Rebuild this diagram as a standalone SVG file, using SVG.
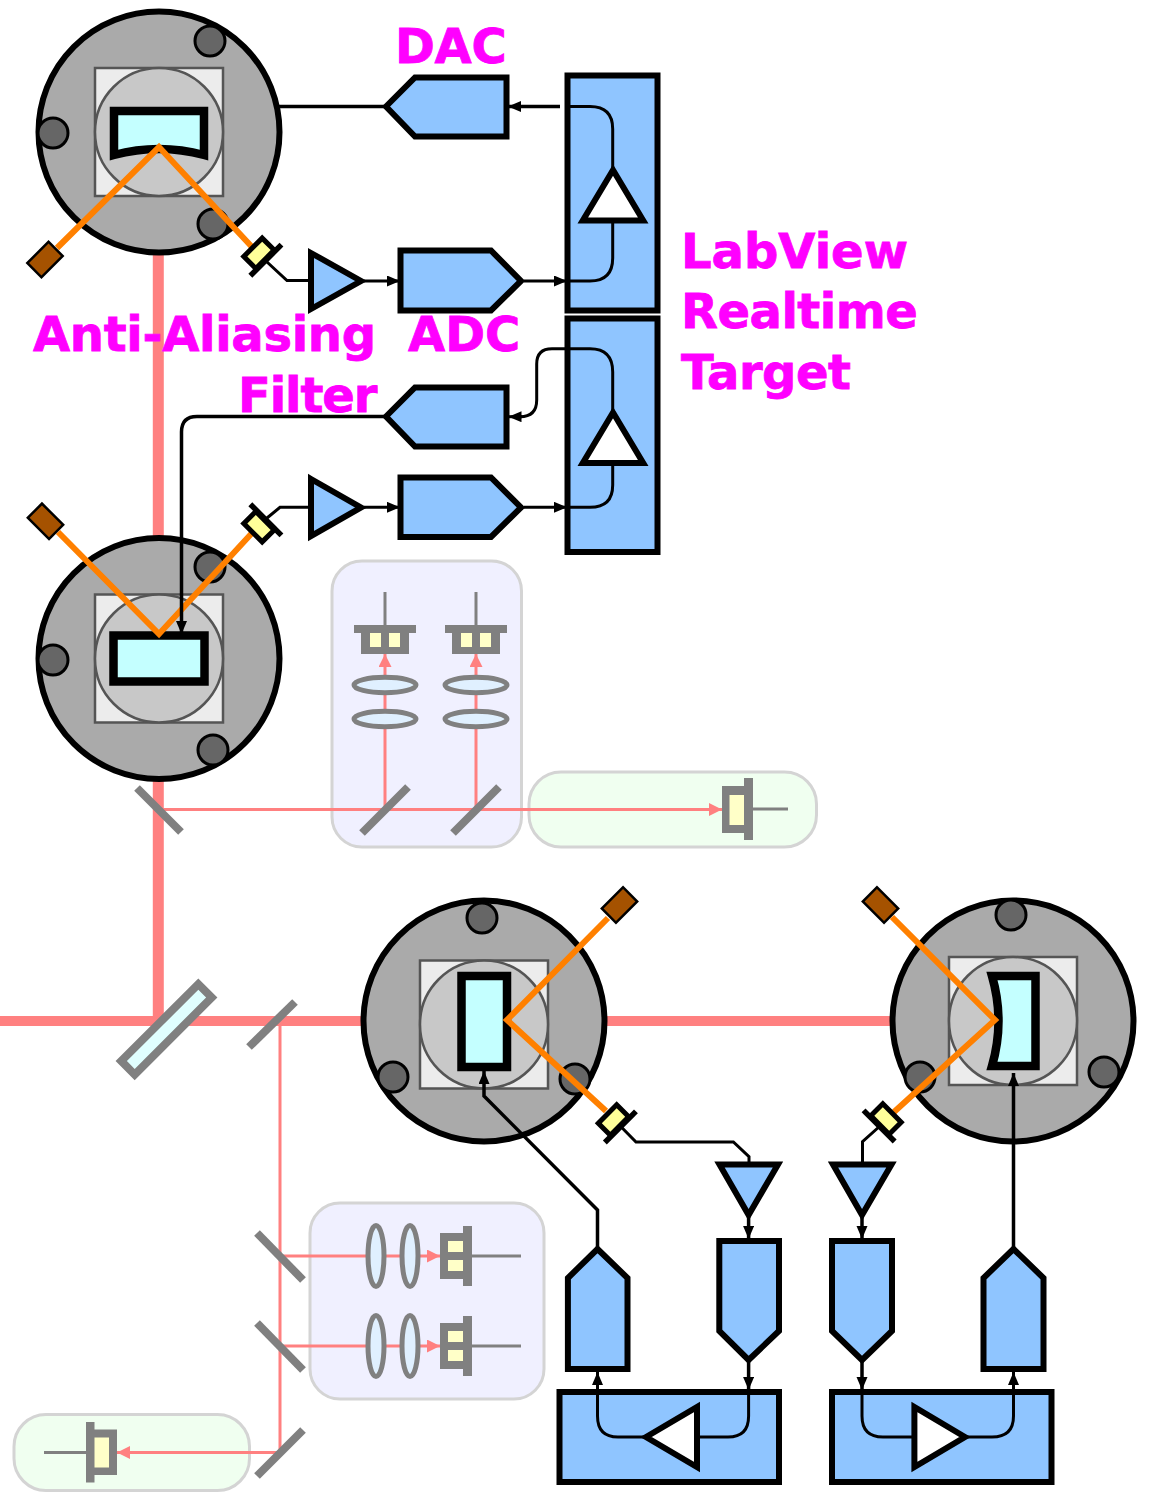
<svg xmlns="http://www.w3.org/2000/svg" width="1158" height="1494" viewBox="0 0 1158 1494">
<style>
.lbl{font-family:"DejaVu Sans",sans-serif;font-weight:700;font-size:48px;fill:#f0f;stroke:#f0f;stroke-width:.8}
.blue{fill:#8fc5ff;stroke:#000;stroke-width:6}
.tri{fill:#fff;stroke:#000;stroke-width:6}
.w{fill:none;stroke:#000;stroke-width:3}
.wa{fill:none;stroke:#000;stroke-width:3;marker-end:url(#a)}
.ok{fill:none;stroke:#000;stroke-width:3.5}
.okA{fill:none;stroke:#000;stroke-width:3.5;marker-end:url(#a)}
.b{fill:none;stroke:#ff8080;stroke-width:3}
.bA{fill:none;stroke:#ff8080;stroke-width:3;marker-end:url(#p)}
.or{fill:none;stroke:#ff8000;stroke-width:6}
.m{stroke:#808080;stroke-width:8;fill:none}
.g{fill:#808080}
.y{fill:#ffffc8}
.gl{stroke:#808080;stroke-width:3;fill:none}
.lens{fill:#e0f0ff;stroke:#808080;stroke-width:5}
.pan{stroke:#d4d4d4;stroke-width:3}
.scr{fill:#666;stroke:#000;stroke-width:3}
.mir{fill:#c4ffff;stroke:#000;stroke-width:8.500;stroke-linejoin:miter}
</style>
<defs>
<marker id="a" markerUnits="userSpaceOnUse" markerWidth="14" markerHeight="12" refX="13" refY="5.500" orient="auto"><path d="M0,0L13,5.500L0,11Z" fill="#000"/></marker>
<marker id="p" markerUnits="userSpaceOnUse" markerWidth="14" markerHeight="14" refX="13" refY="6.500" orient="auto"><path d="M0,0L13,6.500L0,13Z" fill="#ff8080"/></marker>
<circle id="base" r="120.500" fill="#aaa" stroke="#000" stroke-width="6"/>
<g id="plate">
<rect x="-64" y="-64" width="128" height="128" fill="#ececec" stroke="#555" stroke-width="2.500"/>
<circle r="64" fill="#c8c8c8" stroke="#555" stroke-width="2.500"/>
</g>
<rect id="src" x="-15" y="-10" width="30" height="20" fill="#a55200" stroke="#000" stroke-width="2.500"/>
<g id="det">
<rect x="-13" y="-8.500" width="26" height="17" fill="#ffff99" stroke="#000" stroke-width="5"/>
<rect x="-22" y="7" width="44" height="5.500" fill="#000"/>
</g>
<g id="qv">
<path class="gl" d="M0,-33V0"/>
<path class="g" d="M-31,0H31V8H24V29H-24V8H-31Z"/>
<rect class="y" x="-15" y="8" width="11" height="14"/>
<rect class="y" x="4" y="8" width="11" height="14"/>
</g>
<g id="qh">
<path class="gl" d="M0,0H49"/>
<path class="g" d="M0,-30V30H-9V23H-32V-23H-9V-30Z"/>
<rect class="y" x="-24" y="-15" width="15" height="11"/>
<rect class="y" x="-24" y="4" width="15" height="11"/>
</g>
</defs>

<g id="panels">
<rect class="pan" x="332" y="561" width="189.500" height="286" rx="30" fill="#f0f0ff"/>
<rect class="pan" x="529" y="772" width="287.500" height="75" rx="32" fill="#f0fff0"/>
<rect class="pan" x="310" y="1203" width="234" height="196" rx="30" fill="#f0f0ff"/>
<rect class="pan" x="14" y="1414.500" width="235.500" height="76" rx="32" fill="#f0fff0"/>
</g>

<g id="connectors-beams">
<path d="M158.300,250V1021" fill="none" stroke="#ff8080" stroke-width="11"/>
<path d="M0,1021H900" fill="none" stroke="#ff8080" stroke-width="10"/>
<path class="b" d="M159,809.500H385"/>
<path class="bA" d="M385,809.500H722"/>
<path class="bA" d="M385,809.500V654"/>
<path class="bA" d="M476,809.500V654"/>
<path class="b" d="M280,1024V1452"/>
<path class="bA" d="M280,1256H440"/>
<path class="bA" d="M280,1346H440"/>
<path class="bA" d="M280,1452.500H117"/>
</g>

<g id="optics">
<path class="m" d="M137,788L181,832"/>
<path class="m" d="M362,833L408,787"/>
<path class="m" d="M453,833L499,787"/>
<path class="m" d="M295,1002L249,1047"/>
<path class="m" d="M257,1233L303,1280"/>
<path class="m" d="M257,1323L303,1370"/>
<path class="m" d="M303,1430L257,1476"/>
<rect x="112" y="1019.800" width="109" height="19" transform="rotate(-45 166.500 1029.300)" fill="#e0ffff" stroke="#808080" stroke-width="8"/>
<ellipse class="lens" cx="385" cy="685" rx="31" ry="7.700"/>
<ellipse class="lens" cx="385" cy="719" rx="31" ry="7.700"/>
<ellipse class="lens" cx="476" cy="685" rx="31" ry="7.700"/>
<ellipse class="lens" cx="476" cy="719" rx="31" ry="7.700"/>
<use href="#qv" x="385" y="625"/>
<use href="#qv" x="476" y="625"/>
<ellipse class="lens" cx="376" cy="1256" rx="8" ry="30.500"/>
<ellipse class="lens" cx="410" cy="1256" rx="8" ry="30.500"/>
<ellipse class="lens" cx="376" cy="1346" rx="8" ry="30.500"/>
<ellipse class="lens" cx="410" cy="1346" rx="8" ry="30.500"/>
<use href="#qh" x="472" y="1256"/>
<use href="#qh" x="472" y="1346"/>
<g id="pd-top"><path class="gl" d="M753,809H788"/><path class="g" d="M744,778H753V840H744V833H722V786H744Z"/><rect class="y" x="729.500" y="795" width="14.500" height="30"/></g>
<g id="pd-left"><path class="gl" d="M44,1452.500H86"/><path class="g" d="M86,1422H94.500V1429.500H117V1475H94.500V1482.500H86Z"/><rect class="y" x="94.500" y="1437.500" width="14.500" height="30"/></g>
</g>

<g id="mount-1">
<use href="#base" x="159" y="132"/><use href="#plate" x="159" y="132"/>
<circle class="scr" cx="210" cy="41" r="15"/><circle class="scr" cx="53" cy="133" r="15"/><circle class="scr" cx="213" cy="224" r="15"/>
<path class="mir" d="M114,111H204V155Q159,143 114,155Z"/>
<path class="or" d="M57,248L159,147L252,247"/>
<use href="#src" transform="translate(45 259.500) rotate(-45)"/>
<use href="#det" transform="translate(259 253.300) rotate(-45)"/>
</g>
<g id="mount-2">
<use href="#base" x="159" y="658.500"/><use href="#plate" x="159" y="658.500"/>
<circle class="scr" cx="210" cy="567" r="15"/><circle class="scr" cx="53" cy="660" r="15"/><circle class="scr" cx="213" cy="750" r="15"/>
<rect class="mir" x="113.500" y="635.500" width="91" height="46"/>
<path class="or" d="M58,532L159,634L252,533"/>
<use href="#src" transform="translate(45.500 521.300) rotate(45)"/>
<use href="#det" transform="translate(259 526.700) rotate(-135)"/>
</g>
<g id="mount-3">
<use href="#base" x="484" y="1021"/><use href="#plate" x="484" y="1024.500"/>
<circle class="scr" cx="482" cy="918" r="15"/><circle class="scr" cx="393" cy="1077" r="15"/><circle class="scr" cx="575" cy="1079" r="15"/>
<rect class="mir" x="461.500" y="976" width="45.500" height="91"/>
<path class="or" d="M608,918L507,1020L606,1111"/>
<use href="#src" transform="translate(619.500 905) rotate(-45)"/>
<use href="#det" transform="translate(613.500 1120) rotate(-45)"/>
</g>
<g id="mount-4">
<use href="#base" x="1013" y="1021"/><use href="#plate" x="1013" y="1021"/>
<circle class="scr" cx="1011" cy="915" r="15"/><circle class="scr" cx="920" cy="1077" r="15"/><circle class="scr" cx="1104" cy="1072" r="15"/>
<path class="mir" d="M992,976H1035.500V1066H992Q1005,1021 992,976Z"/>
<path class="or" d="M892,917L995,1020L894,1112"/>
<use href="#src" transform="translate(880.500 905) rotate(45)"/>
<use href="#det" transform="translate(886 1119) rotate(45)"/>
</g>

<g id="rt-top"><rect class="blue" x="567.500" y="75.500" width="90" height="235"/><path class="tri" d="M613,170L643.200,220.500H582.800Z"/></g>
<g id="rt-bottom"><rect class="blue" x="567.500" y="318.500" width="90" height="233.500"/><path class="tri" d="M613,412.500L643.200,463H582.800Z"/></g>
<g id="dac-1"><path class="blue" d="M386,106.500L415,77.500H506.500V136.500H415Z"/></g>
<g id="adc-1"><path class="blue" d="M400.500,250.500H491L521,281L491,310.500H400.500Z"/></g>
<g id="amp-1"><path class="blue" d="M311,253L361,281L311,309Z"/></g>
<g id="dac-2"><path class="blue" d="M386,416.500L415,387.500H506.500V446.500H415Z"/></g>
<g id="adc-2"><path class="blue" d="M400.500,477.500H491L521,507.500L491,537H400.500Z"/></g>
<g id="amp-2"><path class="blue" d="M311,479L361,507.500L311,536Z"/></g>
<g id="dac-3"><path class="blue" d="M597.500,1249L627.500,1278V1369H567.900V1278Z"/></g>
<g id="adc-3"><path class="blue" d="M719.300,1241H779V1331L748.600,1360L719.300,1331Z"/></g>
<g id="amp-3"><path class="blue" d="M719.500,1164.500H778L748.600,1215Z"/></g>
<g id="amp-4"><path class="blue" d="M833,1164.500H891.500L862,1215Z"/></g>
<g id="adc-4"><path class="blue" d="M832,1241H892V1331L862,1360L832,1331Z"/></g>
<g id="dac-4"><path class="blue" d="M1013.500,1249L1043.500,1278V1369H983.500V1278Z"/></g>
<g id="rt-3"><rect class="blue" x="559.500" y="1392" width="219.500" height="90"/><path class="tri" d="M646,1437L697,1407V1467Z"/></g>
<g id="rt-4"><rect class="blue" x="832" y="1392" width="219.500" height="90"/><path class="tri" d="M965,1437L914.400,1407V1467Z"/></g>

<g id="connectors">
<path class="ok" d="M279,106.500H386"/>
<path class="okA" d="M560,106.500H508"/>
<path class="w" d="M569,106.500H590Q612.700,106.500 612.700,129V168"/>
<path class="w" d="M612.700,222V258Q612.700,281 590,281H569"/>
<path class="wa" d="M524,281H567"/>
<path class="wa" d="M364,281H400"/>
<path class="w" d="M267,262L287,280.500H310"/>
<path class="w" d="M612.700,412V372Q612.700,348.700 590,348.700H552Q536.700,348.700 536.700,364V400Q536.700,416.700 520,416.700"/>
<path class="wa" d="M522,416.700H508.500"/>
<path class="w" d="M612.700,463V485Q612.700,507.300 590,507.300H567"/>
<path class="wa" d="M524,507.300H567"/>
<path class="wa" d="M364,507.300H400"/>
<path class="w" d="M267,518L280,507.300H310"/>
<path class="okA" d="M386,416.500H197Q181.500,416.500 181.500,432V634"/>
<path class="w" d="M621,1126.700L636,1142H733.400L749,1156.700V1164"/>
<path class="w" d="M880,1126L862.500,1141.700V1164"/>
<path class="okA" d="M748.600,1217V1239"/>
<path class="okA" d="M862,1217V1239"/>
<path class="okA" d="M748.600,1361V1390"/>
<path class="okA" d="M862,1361V1390"/>
<path class="w" d="M748.600,1392V1416Q748.600,1437 728,1437H697"/>
<path class="w" d="M646,1437H618Q597.500,1437 597.500,1416V1392"/>
<path class="wa" d="M597.500,1392V1372"/>
<path class="w" d="M862,1392V1416Q862,1437 883,1437H914"/>
<path class="w" d="M966,1437H992Q1013.500,1437 1013.500,1416V1392"/>
<path class="wa" d="M1013.500,1392V1372"/>
<path class="okA" d="M597.500,1248V1210L484,1096V1071"/>
<path class="okA" d="M1013.500,1248V1073"/>
</g>

<g id="labels">
<text class="lbl" x="395" y="63" letter-spacing="-.3">DAC</text>
<text class="lbl" x="33" y="351" letter-spacing="-.3">Anti-Aliasing</text>
<text class="lbl" x="408" y="351">ADC</text>
<text class="lbl" x="238" y="412" letter-spacing="-1.100">Filter</text>
<text class="lbl" x="681" y="268">LabView</text>
<text class="lbl" x="681" y="328" letter-spacing="-.5">Realtime</text>
<text class="lbl" x="681" y="389" letter-spacing="-.5">Target</text>
</g>
</svg>
